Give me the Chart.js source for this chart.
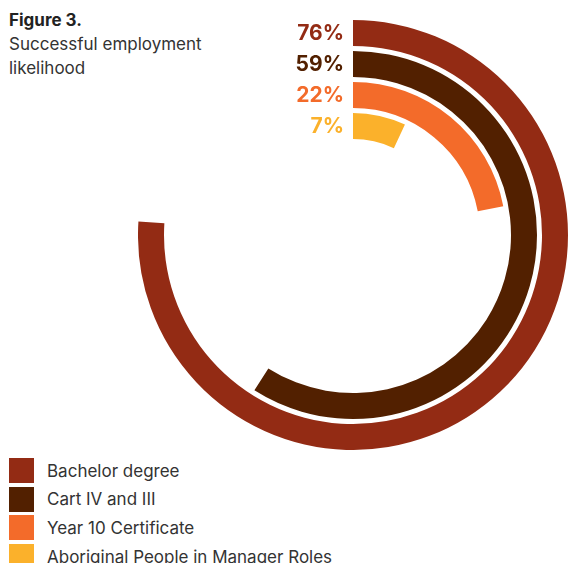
<!DOCTYPE html>
<html>
<head>
<meta charset="utf-8">
<script src="https://cdn.jsdelivr.net/npm/chart.js@4/dist/chart.umd.min.js"></script>
<style>
    html, body { margin: 0; padding: 0; background: #fff; }
    body { width: 569px; height: 563px; position: relative; overflow: hidden; font-family: Inter, "Noto Sans", sans-serif; color: #333; }
    .title { position: absolute; left: 9px; top: 8px; font-size: 17px; line-height: 24px; }
    .title b { display: block; font-weight: 700; color: #222; }
    #chart-wrap { position: absolute; left: 138px; top: 20px; width: 430px; height: 430px; }
    #legend { position: absolute; left: 9px; top: 458px; margin: 0; padding: 0; list-style: none; }
    #legend li { height: 25px; margin-bottom: 3.7px; display: flex; align-items: center; font-size: 17px; }
    #legend span { width: 25px; height: 25px; margin-right: 13px; display: inline-block; }
</style>
</head>
<body>
<div class="title"><b>Figure 3.</b>Successful employment<br>likelihood</div>
<div id="chart-wrap"><canvas id="rings"></canvas></div>
<ul id="legend"></ul>
<script>
document.addEventListener('DOMContentLoaded', () => {
    const categories = ['Bachelor degree', 'Cart IV and III', 'Year 10 Certificate', 'Aboriginal People in Manager Roles'];
    const values = [76, 59, 22, 7];
    const colors = ['#932b14', '#522000', '#f36b2a', '#fbb12b'];

    // one ring per category, with a thin empty ring between them as spacing
    const datasets = [];
    categories.forEach((name, i) => {
        if (i > 0) {
            datasets.push({ data: [100], backgroundColor: ['rgba(0,0,0,0)'], weight: 5, isGap: true });
        }
        datasets.push({
            label: name,
            data: [values[i], 100 - values[i]],
            backgroundColor: [colors[i], 'rgba(0,0,0,0)'],
            weight: 26
        });
    });

    const percentLabels = {
        id: 'percentLabels',
        afterDatasetsDraw(chart) {
            const ctx = chart.ctx;
            ctx.save();
            ctx.font = '700 21px Inter, "Noto Sans", sans-serif';
            ctx.textAlign = 'right';
            ctx.textBaseline = 'middle';
            chart.data.datasets.forEach((ds, i) => {
                if (ds.isGap) return;
                const arc = chart.getDatasetMeta(i).data[0];
                const { x, y, innerRadius, outerRadius } = arc.getProps(['x', 'y', 'innerRadius', 'outerRadius']);
                ctx.fillStyle = ds.backgroundColor[0];
                ctx.fillText(ds.data[0] + '%', x - 9, y - (innerRadius + outerRadius) / 2 + 1);
            });
            ctx.restore();
        }
    };

    new Chart(document.getElementById('rings'), {
        type: 'doughnut',
        data: { labels: ['value', 'rest'], datasets },
        options: {
            responsive: true,
            maintainAspectRatio: false,
            animation: false,
            cutout: 96,
            borderWidth: 0,
            events: [],
            layout: { padding: 0 },
            plugins: {
                legend: { display: false },
                tooltip: { enabled: false }
            }
        },
        plugins: [percentLabels]
    });

    const legend = document.getElementById('legend');
    categories.forEach((name, i) => {
        const li = document.createElement('li');
        li.innerHTML = '<span style="background:' + colors[i] + '"></span>' + name;
        legend.appendChild(li);
    });
});
</script>
</body>
</html>
